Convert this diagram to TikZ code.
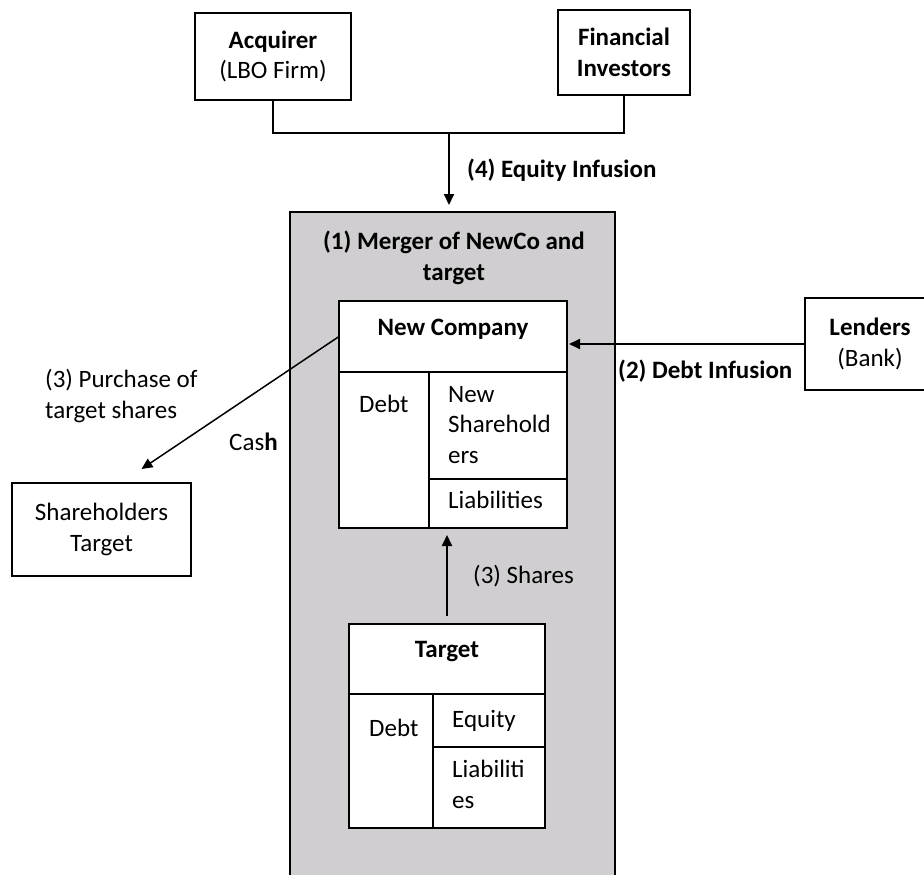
\documentclass[tikz,border=0pt]{standalone}
\usepackage{fontspec}
\setmainfont{Carlito}
\usepackage{tikz}
\usetikzlibrary{positioning, arrows.meta, calc}
\definecolor{mergegray}{RGB}{208,206,208}

\begin{document}
\begin{tikzpicture}[
  x=1pt, y=-1pt,
  font=\fontsize{25}{30.5}\selectfont,
  box/.style={draw, line width=2pt, fill=white, inner sep=0pt, outer sep=0pt, align=center},
  cell/.style={draw, line width=2pt, fill=white, inner sep=0pt, outer sep=0pt, anchor=north west},
  txt/.style={inner sep=0pt, anchor=base west, align=left},
  arr/.style={-{Triangle[length=11pt, width=10pt]}, line width=2pt},
  link/.style={line width=2pt}
]
\useasboundingbox (0,0) rectangle (924,875);
% investors on top
\node[box, minimum width=156, minimum height=87] (acq) at (273,56.5) {\textbf{Acquirer}\\(LBO Firm)};
\node[box, minimum width=132, minimum height=85] (fin) at (624,52.5) {\textbf{Financial}\\\textbf{Investors}};
\coordinate (join) at (449,133);
% the merged entity
\node[draw, line width=2pt, fill=mergegray, anchor=north west, inner sep=0pt, outer sep=0pt, minimum width=325, minimum height=700] (merge) at (290,212) {};
\node[txt, anchor=base, align=center] (mergettl) at (454,280) {\textbf{(1) Merger of NewCo and}\\\textbf{target}};
\node[cell, minimum width=228, minimum height=71] (ncohead) at (339,301) {};
\node[txt, anchor=base] (ncottl) at ($(ncohead.north)+(0,34)$) {\textbf{New Company}};
\node[cell, minimum width=90, minimum height=156] (ncodebt) at (ncohead.south west) {};
\node[cell, minimum width=138, minimum height=107] (ncoeq) at (ncodebt.north east) {};
\node[cell, minimum width=138, minimum height=49] (ncoliab) at (ncoeq.south west) {};
\node[txt] (ncodebtT) at ($(ncodebt.north west)+(20,40)$) {Debt};
\node[txt] (ncoeqT) at ($(ncoeq.north west)+(19,91)$) {New\\Sharehold\\ers};
\node[txt] (ncoliabT) at ($(ncoliab.north west)+(19,29)$) {Liabilities};
% target company
\node[cell, minimum width=196, minimum height=70] (tgthead) at (349,624) {};
\node[txt, anchor=base] (tgtttl) at ($(tgthead.north)+(0,33)$) {\textbf{Target}};
\node[cell, minimum width=84, minimum height=134] (tgtdebt) at (tgthead.south west) {};
\node[cell, minimum width=112, minimum height=53] (tgteq) at (tgtdebt.north east) {};
\node[cell, minimum width=112, minimum height=81] (tgtliab) at (tgteq.south west) {};
\node[txt] (tgtdebtT) at ($(tgtdebt.north west)+(20,42)$) {Debt};
\node[txt] (tgteqT) at ($(tgteq.north west)+(19,33)$) {Equity};
\node[txt] (tgtliabT) at ($(tgtliab.north west)+(19,61)$) {Liabiliti\\es};
% outside parties
\node[box, minimum width=130, minimum height=92] (lend) at (870,344) {\textbf{Lenders}\\(Bank)};
\node[box, minimum width=179, minimum height=93] (sh) at (101.5,529.5) {Shareholders\\Target};
\coordinate (shtip) at ($(sh.north)+(40,-14)$);
% flows
\draw[link] (acq.south) |- (join) -| (fin.south);
\draw[arr, shorten >=7pt] (join) -- (join |- merge.north);
\draw[arr, shorten >=2pt] (lend.west) -- (lend.west -| ncohead.east);
\draw[arr, line width=1.5pt] (ncohead.west) -- (shtip);
\draw[arr, shorten <=8pt, shorten >=7pt] (tgthead.north) -- (tgthead.north |- ncodebt.south);
\node[txt] (eqinf) at (467,177) {\textbf{(4) Equity Infusion}};
\node[txt] (debtinf) at (618,378) {\textbf{(2) Debt Infusion}};
\node[txt] (purch) at (45,418) {(3) Purchase of\\target shares};
\node[txt] (cash) at (229,450) {Cas\textbf{h}};
\node[txt] (shares) at (473,583) {(3) Shares};
\end{tikzpicture}
\end{document}
